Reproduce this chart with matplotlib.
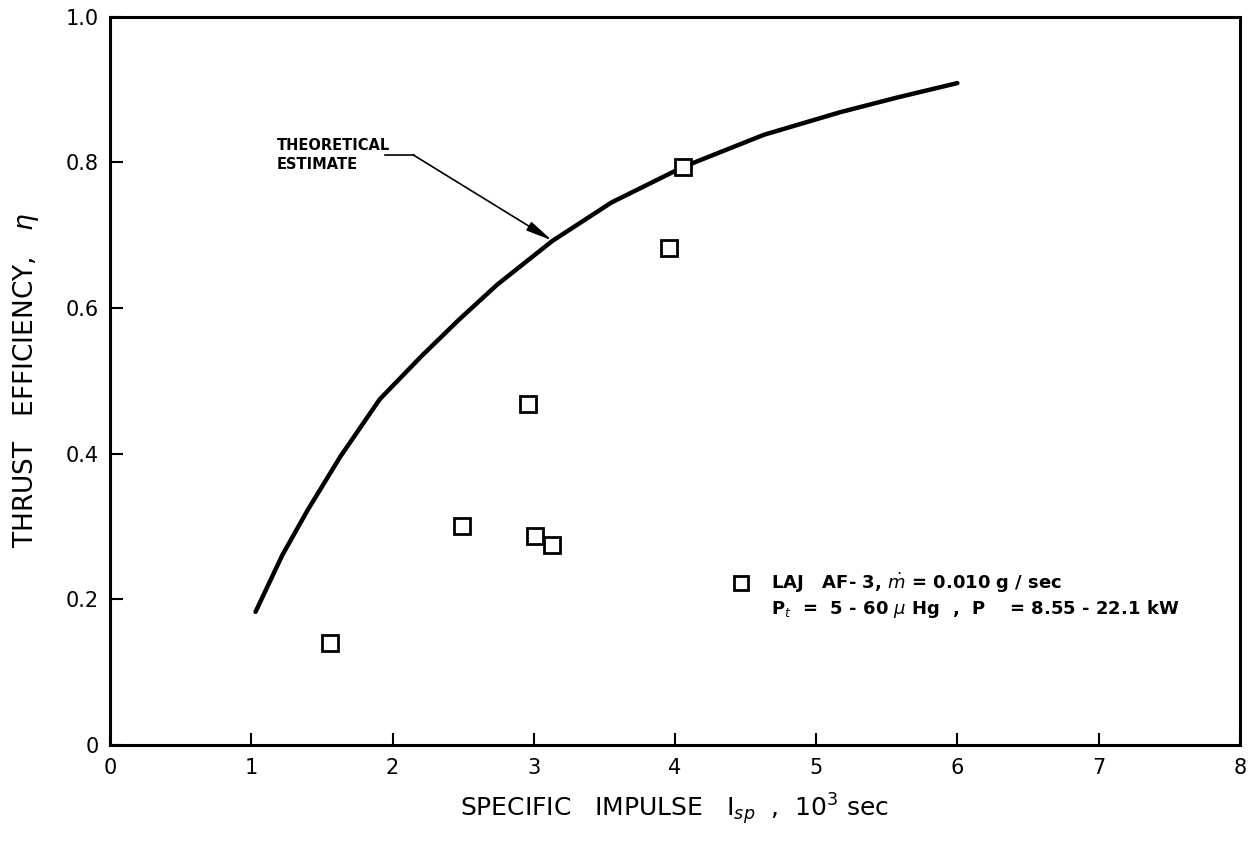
import matplotlib.pyplot as plt

plt.rcParams['font.family'] = ['DejaVu Sans']
plt.rcParams['mathtext.fontset'] = 'dejavusans'

# theoretical estimate curve
theory_isp = [1.03, 1.22, 1.40, 1.63, 1.91, 2.21, 2.47, 2.74, 3.13, 3.55, 4.06, 4.63, 5.17, 5.57, 6.0]
theory_eta = [0.183, 0.261, 0.323, 0.396, 0.475, 0.535, 0.584, 0.632, 0.692, 0.745, 0.794, 0.838, 0.869, 0.889, 0.909]

# LAJ AF-3 measured points
laj_isp = [1.56, 2.49, 2.96, 3.01, 3.13, 3.96, 4.06]
laj_eta = [0.140, 0.301, 0.468, 0.287, 0.275, 0.682, 0.794]

xticks = [0, 1, 2, 3, 4, 5, 6, 7, 8]
yticks = [0, 0.2, 0.4, 0.6, 0.8, 1.0]
ytick_labels = ['0', '0.2', '0.4', '0.6', '0.8', '1.0']

fig = plt.figure(figsize=(12.51, 8.41), dpi=100)
ax = fig.add_axes([0.088, 0.114, 0.903, 0.866])

ax.plot(theory_isp, theory_eta, color='black', lw=3.2, solid_capstyle='round',
        solid_joinstyle='round', zorder=2)
ax.plot(laj_isp, laj_eta, 's', ms=11, mfc='white', mec='black', mew=2, zorder=3)

ax.set_xlim(0, 8)
ax.set_ylim(0, 1.0)
ax.set_xticks(xticks)
ax.set_xticklabels([str(t) for t in xticks])
ax.set_yticks(yticks)
ax.set_yticklabels(ytick_labels)
ax.tick_params(direction='in', length=9, width=1.5, labelsize=15)
ax.tick_params(axis='x', pad=9)
ax.tick_params(axis='y', pad=8)
for s in ax.spines.values():
    s.set_linewidth(2.2)

ax.set_xlabel(r'SPECIFIC   IMPULSE   $\mathrm{I}_{sp}$  ,  10$^3$ sec', fontsize=18, labelpad=10)
ax.set_ylabel(r'THRUST   EFFICIENCY,   $\eta$', fontsize=19, labelpad=18)

# label with leader line and arrow
ax.text(1.18, 0.81, 'THEORETICAL\nESTIMATE', fontsize=10.5, fontweight='bold',
        va='center', ha='left', linespacing=1.3)
ax.plot([1.95, 2.15], [0.81, 0.81], color='black', lw=1.2)
ax.annotate('', xy=(3.13, 0.693), xytext=(2.15, 0.81),
            arrowprops=dict(arrowstyle='-|>,head_length=1.6,head_width=0.3',
                            color='black', lw=1.2, shrinkA=0, shrinkB=0))

# legend as drawn in the figure
ax.plot([4.47], [0.223], 's', ms=10, mfc='white', mec='black', mew=2)
ax.text(4.68, 0.223, r'LAJ   AF- 3, $\dot{m}$ = 0.010 g / sec', fontsize=13,
        fontweight='bold', va='center', ha='left')
ax.text(4.68, 0.187, r'P$_t$  =  5 - 60 $\mu$ Hg  ,  P    = 8.55 - 22.1 kW', fontsize=13,
        fontweight='bold', va='center', ha='left')

fig.savefig('out.png', dpi=100)
